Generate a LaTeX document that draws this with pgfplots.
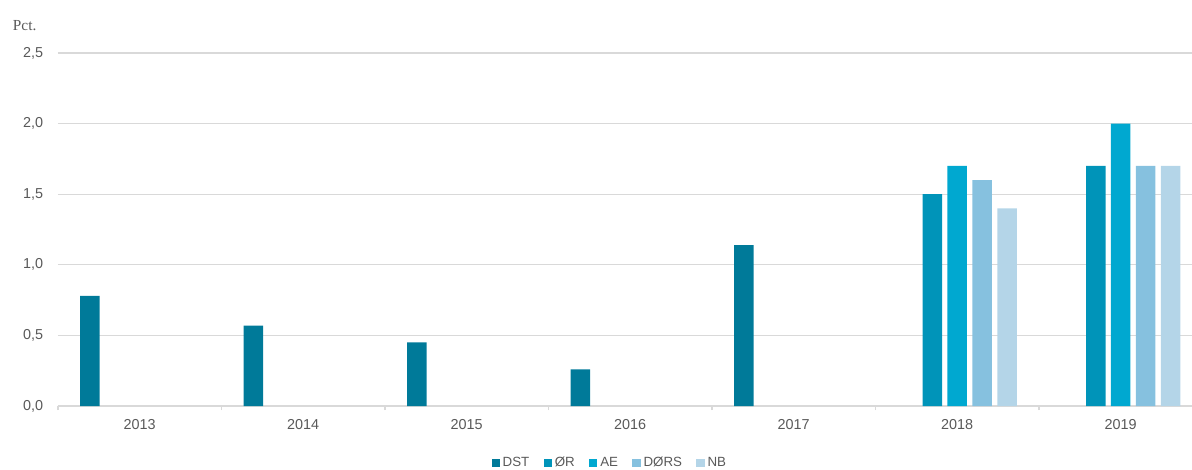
\documentclass[border=0pt]{standalone}
\usepackage{fontspec}
\setmainfont{Liberation Sans}
\newfontfamily\pctfont{Liberation Serif}
\usepackage{pgfplots}
\pgfplotsset{compat=1.18}
\definecolor{dst}{HTML}{007A99}
\definecolor{oer}{HTML}{0094B9}
\definecolor{ae}{HTML}{00A8D0}
\definecolor{doers}{HTML}{86C1DF}
\definecolor{nb}{HTML}{B4D5E8}
\definecolor{txt}{HTML}{595959}
\definecolor{gridc}{HTML}{D9D9D9}

\begin{document}
\begin{tikzpicture}
\begin{axis}[
    name=ax,
    scale only axis,
    width=850.5pt,
    height=264.75pt,
    xmin=-0.5, xmax=6.436,
    ymin=0, ymax=2.5,
    ybar=4.1pt,
    bar width=14.6pt,
    axis lines*=left,
    y axis line style={draw=none},
    x axis line style={draw=gridc, line width=0.8pt},
    xtick={0,...,6},
    xticklabels={2013,2014,2015,2016,2017,2018,2019},
    major x tick style={draw=none},
    minor xtick={-0.5,0.5,...,5.5},
    minor x tick style={draw=gridc, line width=0.8pt},
    minor tick length=3pt,
    tick align=outside,
    ytick={0,0.5,...,2.5},
    major y tick style={draw=none},
    ymajorgrids=true,
    grid style={gridc, line width=0.8pt},
    /pgf/number format/fixed,
    /pgf/number format/fixed zerofill,
    /pgf/number format/precision=1,
    /pgf/number format/use comma,
    /pgf/number format/assume math mode=true,
    tick label style={font=\fontsize{10.8}{12}\selectfont, text=txt},
    xticklabel style={anchor=center, yshift=-9.9pt},
    yticklabel style={anchor=east, inner sep=0pt, xshift=-6.6pt},
    legend columns=5,
    legend style={at={(0.487,-0.162)}, anchor=center, draw=none, fill=none,
        font=\fontsize{10}{12}\selectfont, text=txt, inner sep=0pt,
        nodes={inner xsep=2.2pt, inner ysep=0pt},
        /tikz/every even column/.append style={column sep=8.5pt}},
    legend image code/.code={\fill[#1] (0pt,-3.1pt) rectangle (6.2pt,3.1pt);},
]
\addplot[fill=dst, draw=none] coordinates {(0,0.78) (1,0.57) (2,0.45) (3,0.26) (4,1.14)};
\addplot[fill=oer, draw=none] coordinates {(5,1.5) (6,1.7)};
\addplot[fill=ae, draw=none] coordinates {(5,1.7) (6,2.0)};
\addplot[fill=doers, draw=none] coordinates {(5,1.6) (6,1.7)};
\addplot[fill=nb, draw=none] coordinates {(5,1.4) (6,1.7)};
\legend{DST, ØR, AE, DØRS, NB}
\end{axis}
\node[anchor=west, inner sep=0pt, text=txt, font=\pctfont\fontsize{11.5}{13}\selectfont] at (-34pt,285pt) {Pct.};
\pgfresetboundingbox
\path[use as bounding box] (-43.5pt,-47.25pt) rectangle (850.5pt,304.5pt);
\end{tikzpicture}
\end{document}
